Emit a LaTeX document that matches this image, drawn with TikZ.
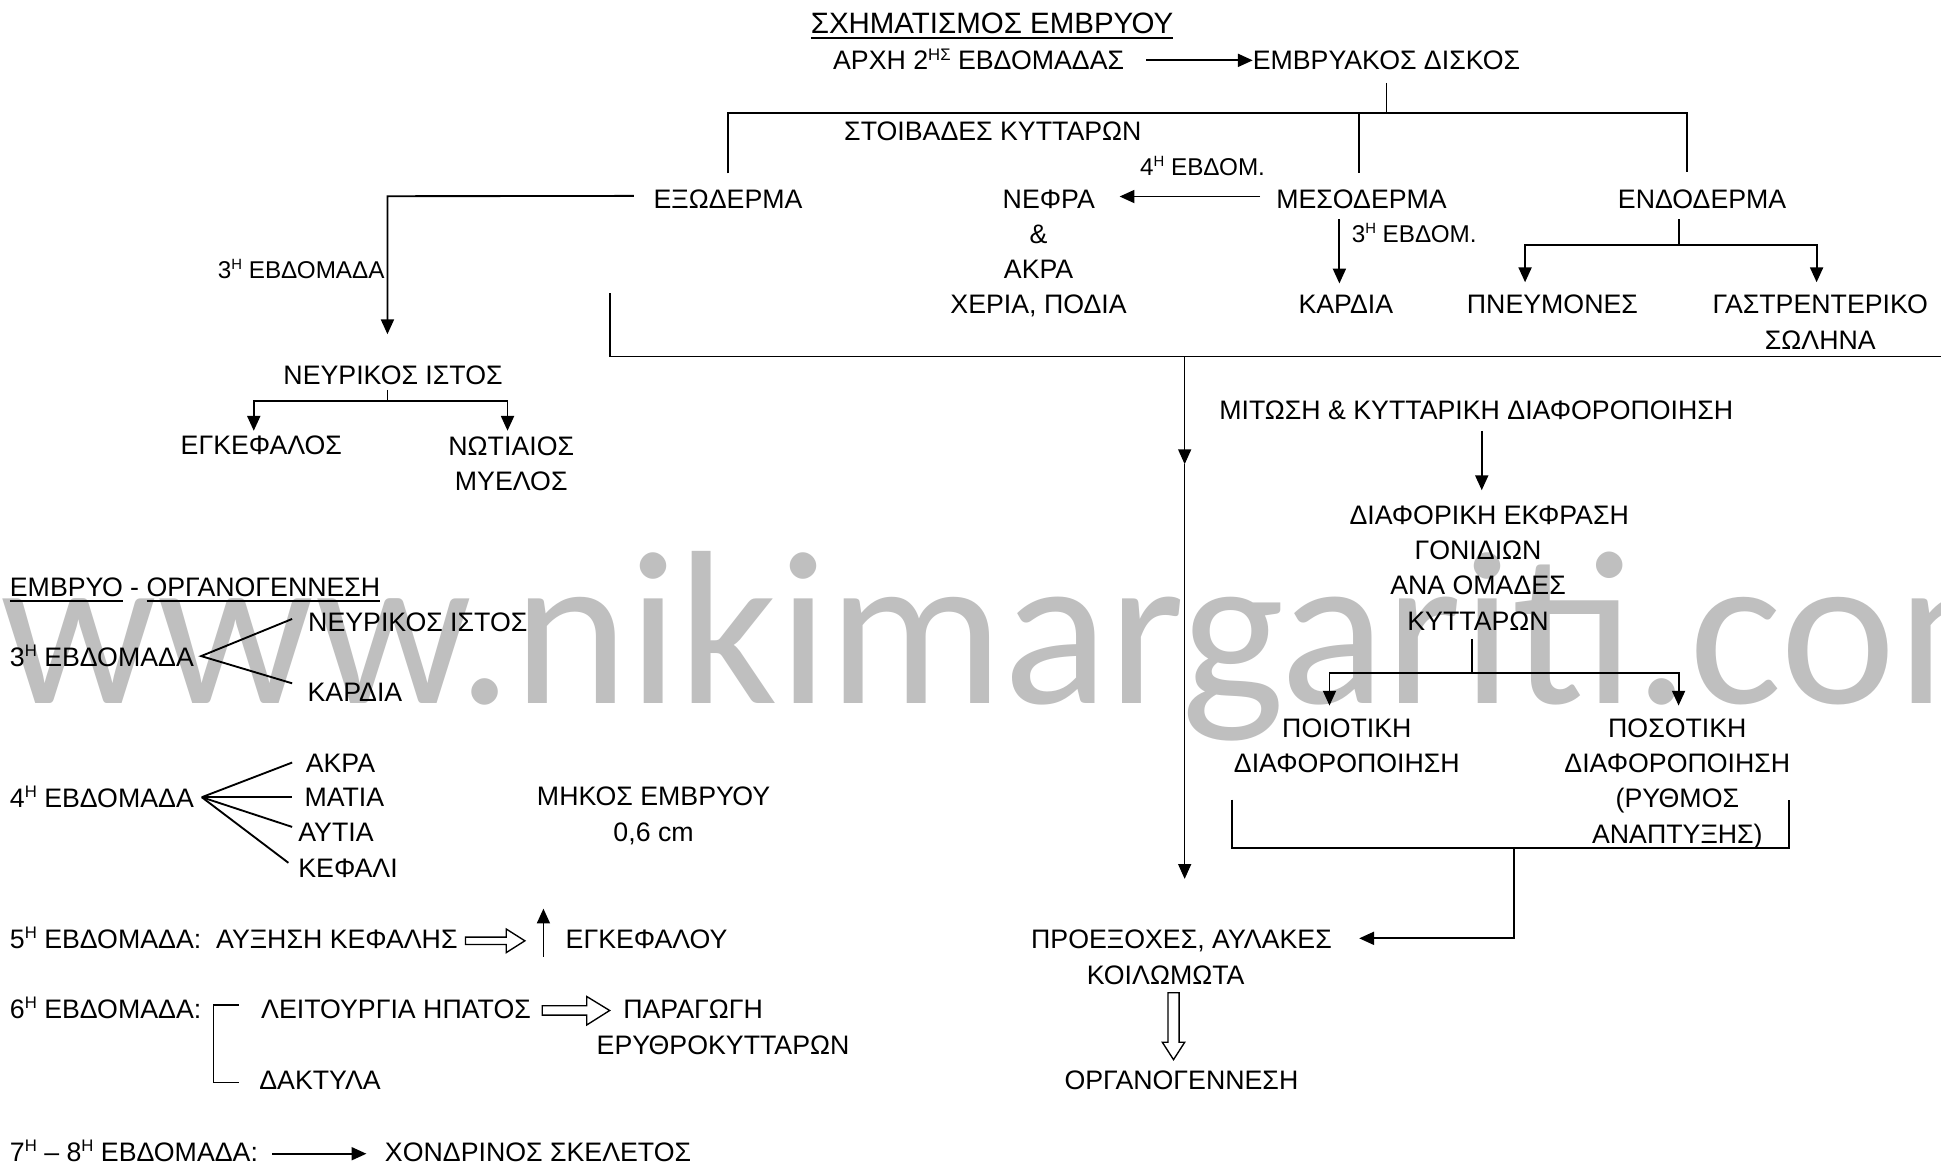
\documentclass[tikz,border=0pt]{standalone}
\usepackage{fontspec}
\setmainfont{Liberation Sans}
\newfontfamily\wmfont{Carlito}
\usetikzlibrary{arrows.meta,calc}
\definecolor{wmgray}{RGB}{191,191,191}
\newcommand\supx[1]{\raisebox{8pt}{\fontsize{13.5}{13.5}\selectfont #1}}
\newcommand\supy[1]{\raisebox{7pt}{\fontsize{12}{12}\selectfont #1}}
\newcommand\ulx[1]{\vtop{\hbox{#1}\kern3pt\hrule height 1.6pt}}
\tikzset{
  tx/.style={inner sep=0pt, outer sep=0pt, anchor=base west, text height=15.5pt, text depth=0pt, font=\fontsize{21.6}{28.5}\selectfont},
  sm/.style={tx, text height=14pt, font=\fontsize{19.6}{24}\selectfont},
  big/.style={tx, text height=17pt, font=\fontsize{23.8}{28.5}\selectfont},
  ml/.style={inner sep=0pt, outer sep=0pt, anchor=north, align=center, font=\fontsize{21.6}{28.5}\selectfont},
  ln/.style={line width=1.5pt},
  thin ln/.style={line width=1.1pt},
  tip/.style={-{Triangle[length=12pt,width=10.5pt]}},
  arr/.style={ln, tip},
  hol/.style={line width=1.1pt, fill=white, line join=miter}
}
\begin{document}
\begin{tikzpicture}[x=1pt,y=-1pt]
\useasboundingbox (0,0) rectangle (1568,943.5);
\fill[white] (0,0) rectangle (1568,943.5);
% watermark
\node[inner sep=0pt, anchor=base west, text=wmgray, font=\wmfont\fontsize{177}{177}\selectfont] (wm) at (0,568) {www.nikimargariti.com};

% ---------- top tree ----------
\node[big] (title) at (655,27) {\ulx{ΣΧΗΜΑΤΙΣΜΟΣ ΕΜΒΡΥΟΥ}};
\node[tx] (arxi) at (673,56.5) {ΑΡΧΗ 2\supx{ΗΣ} ΕΒΔΟΜΑΔΑΣ};
\node[tx] (disk) at (1012,56.5) {ΕΜΒΡΥΑΚΟΣ ΔΙΣΚΟΣ};
\draw[arr] ([xshift=18pt]arxi.east) -- (disk.west);
\draw[ln] ([yshift=-10.5pt]disk.south) -- ++(0,24) coordinate (top);

\node[tx] (stoib) at (682,113.5) {ΣΤΟΙΒΑΔΕΣ ΚΥΤΤΑΡΩΝ};
\node[sm] (w4m) at (921,141.5) {4\supy{Η} ΕΒΔΟΜ.};

\node[tx] (exo) at (528,168.5) {ΕΞΩΔΕΡΜΑ};
\node[tx] (nefra) at (810,168.5) {ΝΕΦΡΑ};
\node[tx] (meso) at (1031,168.5) {ΜΕΣΟΔΕΡΜΑ};
\node[tx] (endo) at (1307,168.5) {ΕΝΔΟΔΕΡΜΑ};

\coordinate (j1) at (588,91);
\coordinate (j2) at (1098,91);
\coordinate (j3) at (1363,91);
\draw[ln] (588,140) -- (j1) -- (j3) -- (1363,139);
\draw[ln] (j2) -- (1098,140);

\draw[arr] ([xshift=-13pt,yshift=2pt]meso.west) -- ([xshift=20pt,yshift=2pt]nefra.east);
\node[ml] (akra) at (839,181.5) {\&\\ΑΚΡΑ\\ΧΕΡΙΑ, ΠΟΔΙΑ};

\node[sm] (w3m) at (1092,196) {3\supy{Η} ΕΒΔΟΜ.};
\node[tx] (kardia) at (1049,253.5) {ΚΑΡΔΙΑ};
\coordinate (mk) at (1082,229);
\draw[arr] (mk |- 0,177) -- (mk);

\node[tx] (pneu) at (1185,253.5) {ΠΝΕΥΜΟΝΕΣ};
\node[ml] (gastro) at (1470.5,238.5) {ΓΑΣΤΡΕΝΤΕΡΙΚΟ\\ΣΩΛΗΝΑ};
\coordinate (ej) at (1356,198);
\draw[ln] (ej |- 0,177) -- (ej);
\coordinate (pa) at (1232,228);
\coordinate (ga) at (1467.5,228);
\draw[arr] (ej) -| (pa);
\draw[arr] (ej) -| (ga);

% exoderm -> nervous tissue
\node[sm] (w3l) at (176,225) {3\supy{Η} ΕΒΔΟΜΑΔΑ};
\node[tx] (nerv) at (229,310.5) {ΝΕΥΡΙΚΟΣ ΙΣΤΟΣ};
\coordinate (nt) at (313,158.5);
\draw[arr] ([xshift=-16pt,yshift=2.5pt]exo.west) -- (nt) -- (313,270);
\node[tx] (enc) at (146,367.5) {ΕΓΚΕΦΑΛΟΣ};
\node[ml] (noti) at (413,352.5) {ΝΩΤΙΑΙΟΣ\\ΜΥΕΛΟΣ};
\coordinate (nj) at (313,324);
\draw[ln] (313,315) -- (nj);
\draw[arr] (nj) -| (205,348);
\draw[arr] (nj) -| (410,348);

% big bracket
\coordinate (bT) at (493,237);
\coordinate (bL) at (493,288);
\coordinate (bM) at (957,288);
\coordinate (bR) at (1568,288);
\coordinate (bA) at (957,375);
\coordinate (bE) at (957,710);
\draw[ln] (bT) -- (bL) -- (bR);
\draw[thin ln, tip] (bM) -- (bA);
\draw[thin ln, tip] (bA) -- (bE);

% right column
\node[tx] (mit) at (985,338.5) {ΜΙΤΩΣΗ \& ΚΥΤΤΑΡΙΚΗ ΔΙΑΦΟΡΟΠΟΙΗΣΗ};
\node[ml] (diaf) at (1194,408.5) {\hspace*{18pt}ΔΙΑΦΟΡΙΚΗ ΕΚΦΡΑΣΗ\\ΓΟΝΙΔΙΩΝ\\ΑΝΑ ΟΜΑΔΕΣ\\ΚΥΤΤΑΡΩΝ};
\coordinate (ma) at (1197,396);
\draw[arr] (ma |- 0,348) -- (ma);
\coordinate (dj) at (1189,544);
\draw[ln] (1189,516) -- (dj);
\node[ml] (poio) at (1088,580.5) {ΠΟΙΟΤΙΚΗ\\ΔΙΑΦΟΡΟΠΟΙΗΣΗ};
\node[ml] (poso) at (1355,580.5) {ΠΟΣΟΤΙΚΗ\\ΔΙΑΦΟΡΟΠΟΙΗΣΗ\\(ΡΥΘΜΟΣ\\ΑΝΑΠΤΥΞΗΣ)};
\draw[arr] (dj) -| (1074,570);
\draw[arr] (dj) -| (1356,570);

\coordinate (qL) at (995,685);
\coordinate (qM) at (1223,685);
\coordinate (qR) at (1445,685);
\draw[ln] (995,646) -- (qL) -- (qR) -- (1445,646);
\node[tx] (proe) at (833,766.5) {ΠΡΟΕΞΟΧΕΣ, ΑΥΛΑΚΕΣ};
\node[tx] (koil) at (878,795.5) {ΚΟΙΛΩΜΩΤΑ};
\node[tx] (org) at (860,880.5) {ΟΡΓΑΝΟΓΕΝΝΕΣΗ};
\draw[arr] (qM) |- (1098,758);
\draw[hol] (943.5,802) -- (952.5,802) -- (952.5,842) -- (957,842) -- (948,856) -- (939,842) -- (943.5,842) -- cycle;

% ---------- bottom left ----------
\node[tx] (emb) at (8,481.5) {\ulx{ΕΜΒΡΥΟ} - \ulx{ΟΡΓΑΝΟΓΕΝΝΕΣΗ}};
\node[tx] (w3) at (8,538.5) {3\supx{Η} ΕΒΔΟΜΑΔΑ};
\node[tx] (nerv2) at (249,510.5) {ΝΕΥΡΙΚΟΣ ΙΣΤΟΣ};
\node[tx] (kard2) at (248.5,567) {ΚΑΡΔΙΑ};
\coordinate (v3) at (162.5,530);
\draw[ln] (236,500) -- (v3) -- (236,552);

\node[tx] (w4) at (8,652) {4\supx{Η} ΕΒΔΟΜΑΔΑ};
\node[tx] (akra2) at (247,624) {ΑΚΡΑ};
\node[tx] (matia) at (246,651.5) {ΜΑΤΙΑ};
\node[tx] (aftia) at (241,680) {ΑΥΤΙΑ};
\node[tx] (kef) at (241,708.5) {ΚΕΦΑΛΙ};
\coordinate (v4) at (163,644);
\draw[ln] (v4) -- (236,616);
\draw[ln] (v4) -- (236,644);
\draw[ln] (v4) -- (236,668);
\draw[ln] (v4) -- (233,697);
\node[ml] (mikos) at (528,636) {ΜΗΚΟΣ ΕΜΒΡΥΟΥ\\0,6 cm};

\node[tx] (w5) at (8,766.5) {5\supx{Η} ΕΒΔΟΜΑΔΑ:\ \ ΑΥΞΗΣΗ ΚΕΦΑΛΗΣ};
\draw[hol] (376,757) -- (409,757) -- (409,750.5) -- (424,760) -- (409,769.5) -- (409,763) -- (376,763) -- cycle;
\coordinate (u1) at (439,773);
\coordinate (u2) at (439,734);
\draw[arr] (u1) -- (u2);
\node[tx] (enk) at (457,766.5) {ΕΓΚΕΦΑΛΟΥ};

\node[tx] (w6) at (8,823) {6\supx{Η} ΕΒΔΟΜΑΔΑ:};
\draw[ln] (193,812) -- (172.5,812) -- (172.5,874.5) -- (193,874.5);
\node[tx] (leit) at (211,823) {ΛΕΙΤΟΥΡΓΙΑ ΗΠΑΤΟΣ};
\draw[hol] (438,812.5) -- (474,812.5) -- (474,805) -- (492.5,816.3) -- (474,828) -- (474,820) -- (438,820) -- cycle;
\node[tx] (parag) at (503.5,823) {ΠΑΡΑΓΩΓΗ};
\node[tx] (eryth) at (482,851.5) {ΕΡΥΘΡΟΚΥΤΤΑΡΩΝ};
\node[tx] (dakt) at (209.5,880) {ΔΑΚΤΥΛΑ};

\node[tx] (w78) at (8,938) {7\supx{Η} – 8\supx{Η} ΕΒΔΟΜΑΔΑ:};
\node[tx] (hond) at (311,938) {ΧΟΝΔΡΙΝΟΣ ΣΚΕΛΕΤΟΣ};
\coordinate (ha) at (296,932);
\draw[arr] (220,932) -- (ha);
\end{tikzpicture}
\end{document}
